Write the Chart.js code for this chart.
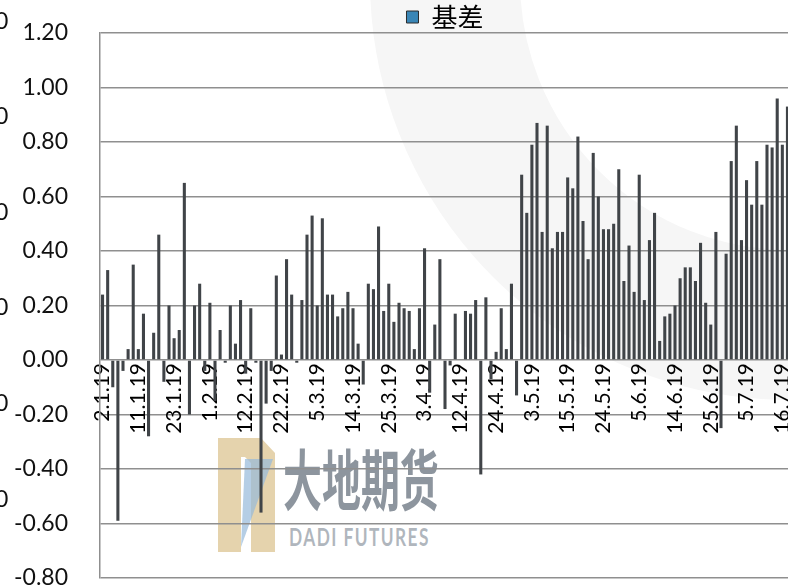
<!DOCTYPE html>
<html>
<head>
<meta charset="utf-8">
<title>基差</title>
<script src="https://cdn.jsdelivr.net/npm/chart.js@4.4.1/dist/chart.umd.min.js"></script>
<style>
  html, body { margin: 0; padding: 0; background: #fff; overflow: hidden; }
  #wrap { position: relative; width: 788px; height: 588px; overflow: hidden; }
  #chart { position: absolute; left: 0; top: 0; z-index: 3; }
  /* big grey swoosh of the watermark */
  .ring {
    position: absolute; left: 370px; top: -440px; width: 840px; height: 840px;
    box-sizing: border-box; border: 150px solid #f6f6f6; border-radius: 50%; z-index: 0;
  }
  .logo { position: absolute; z-index: 1; }
  .logo-cn {
    left: 283px; top: 428px; font: bold 66px "Noto Sans CJK SC"; color: rgba(112, 122, 134, 0.8);
    transform: scaleX(0.59); transform-origin: left top; white-space: nowrap;
  }
  .logo-en {
    left: 289px; top: 522px; font: bold 24px Lato; color: rgba(150, 158, 168, 0.75);
    transform: scaleX(0.72); transform-origin: left top; letter-spacing: 2px; white-space: nowrap;
  }
  /* the axis of the neighbouring chart, cut off at the left edge */
  .cut { position: absolute; left: -5px; font: 23px Lato; line-height: 23px; color: #111; z-index: 4; }
</style>
</head>
<body>
<div id="wrap">
  <div class="ring"></div>
  <svg class="logo" style="left:215px;top:435px" width="64" height="120">
    <path d="M3 3 H46 L60 18 V117 H36 V28 L30 22 H26 V117 H3 Z" fill="rgba(220,196,145,0.75)"/>
    <path d="M30 24 L58 24 L26 112 Z" fill="rgba(150,185,218,0.7)"/>
  </svg>
  <div class="logo logo-cn">大地期货</div>
  <div class="logo logo-en">DADI FUTURES</div>
  <canvas id="chart" width="884" height="588"></canvas>
</div>
<script>
// trading days shown on the category axis (d.m.yy)
const dates = [
  "2.1.19", "3.1.19", "4.1.19", "7.1.19", "8.1.19", "9.1.19", "10.1.19", "11.1.19", "14.1.19", "15.1.19",
  "16.1.19", "17.1.19", "18.1.19", "22.1.19", "23.1.19", "24.1.19", "25.1.19", "28.1.19", "29.1.19", "30.1.19",
  "31.1.19", "1.2.19", "4.2.19", "5.2.19", "6.2.19", "7.2.19", "8.2.19", "11.2.19", "12.2.19", "13.2.19",
  "14.2.19", "15.2.19", "19.2.19", "20.2.19", "21.2.19", "22.2.19", "25.2.19", "26.2.19", "27.2.19", "28.2.19",
  "1.3.19", "4.3.19", "5.3.19", "6.3.19", "7.3.19", "8.3.19", "11.3.19", "12.3.19", "13.3.19", "14.3.19",
  "15.3.19", "18.3.19", "19.3.19", "20.3.19", "21.3.19", "22.3.19", "25.3.19", "26.3.19", "27.3.19", "28.3.19",
  "29.3.19", "1.4.19", "2.4.19", "3.4.19", "4.4.19", "5.4.19", "8.4.19", "9.4.19", "10.4.19", "11.4.19",
  "12.4.19", "15.4.19", "16.4.19", "17.4.19", "18.4.19", "22.4.19", "23.4.19", "24.4.19", "25.4.19", "26.4.19",
  "29.4.19", "30.4.19", "1.5.19", "2.5.19", "3.5.19", "7.5.19", "8.5.19", "9.5.19", "10.5.19", "13.5.19",
  "14.5.19", "15.5.19", "16.5.19", "17.5.19", "20.5.19", "21.5.19", "22.5.19", "23.5.19", "24.5.19", "28.5.19",
  "29.5.19", "30.5.19", "31.5.19", "3.6.19", "4.6.19", "5.6.19", "6.6.19", "7.6.19", "10.6.19", "11.6.19",
  "12.6.19", "13.6.19", "14.6.19", "17.6.19", "18.6.19", "19.6.19", "20.6.19", "21.6.19", "24.6.19", "25.6.19",
  "26.6.19", "27.6.19", "28.6.19", "1.7.19", "2.7.19", "3.7.19", "5.7.19", "8.7.19", "9.7.19", "10.7.19",
  "11.7.19", "12.7.19", "15.7.19", "16.7.19", "17.7.19"
];

// 基差 values
const basis = [
  0.24, 0.33, -0.10, -0.59, -0.04, 0.04, 0.35, 0.04, 0.17, -0.28,
  0.10, 0.46, -0.08, 0.20, 0.08, 0.11, 0.65, -0.20, 0.20, 0.28,
  -0.04, 0.21, -0.15, 0.11, -0.01, 0.20, 0.06, 0.22, -0.05, 0.19,
  -0.01, -0.56, -0.16, -0.04, 0.31, 0.02, 0.37, 0.24, -0.01, 0.22,
  0.46, 0.53, 0.20, 0.52, 0.24, 0.24, 0.16, 0.19, 0.25, 0.19,
  0.06, -0.09, 0.28, 0.26, 0.49, 0.18, 0.28, 0.14, 0.21, 0.19,
  0.18, 0.04, 0.19, 0.41, -0.12, 0.13, 0.37, -0.18, -0.02, 0.17,
  0.00, 0.18, 0.17, 0.22, -0.42, 0.23, -0.07, 0.03, 0.19, 0.04,
  0.28, -0.13, 0.68, 0.54, 0.79, 0.87, 0.47, 0.86, 0.41, 0.47,
  0.47, 0.67, 0.63, 0.82, 0.51, 0.37, 0.76, 0.60, 0.48, 0.48,
  0.50, 0.70, 0.29, 0.42, 0.25, 0.68, 0.22, 0.44, 0.54, 0.07,
  0.16, 0.17, 0.20, 0.30, 0.34, 0.34, 0.29, 0.43, 0.21, 0.13,
  0.47, -0.25, 0.39, 0.73, 0.86, 0.44, 0.66, 0.57, 0.73, 0.57,
  0.79, 0.78, 0.96, 0.79, 0.93
];

const seriesName = "基差";
const yMin = -0.8;
const yMax = 1.2;
const yStep = 0.2;
const labelEvery = 7;   // only every 7th date is printed

const barColor = "#404448";
const legendBlue = "#3a86b6";
const gridColor = "#8f8f8f";

// the cut-off "0" digits along the left edge
for (let i = 0; i < 6; i++) {
  const d = document.createElement("div");
  d.className = "cut";
  d.textContent = "0";
  d.style.top = (20 + i * 95.6 - 11.5) + "px";
  document.getElementById("wrap").appendChild(d);
}

// keep the legend strip short so the plot starts right under it
const legendFit = {
  id: "legendFit",
  afterInit(chart) {
    const legend = chart.legend;
    if (!legend || legend._fitPatched) return;
    const fit = legend.fit;
    legend.fit = function () {
      fit.call(this);
      this.height = 33;
    };
    legend._fitPatched = true;
  }
};

function draw() {
  const ctx = document.getElementById("chart").getContext("2d");
  new Chart(ctx, {
    type: "bar",
    data: {
      labels: dates,
      datasets: [{
        label: seriesName,
        data: basis,
        backgroundColor: barColor,
        barPercentage: 0.6,
        categoryPercentage: 1.0
      }]
    },
    options: {
      responsive: false,
      animation: false,
      layout: { padding: { left: 0, right: 94, top: 0, bottom: 10 } },
      plugins: {
        tooltip: { enabled: false },
        legend: {
          position: "top",
          fullSize: false,
          labels: {
            boxWidth: 12,
            boxHeight: 12,
            padding: 4,
            color: "#111",
            font: { family: "'Noto Sans CJK SC'", size: 26, lineHeight: 1 },
            generateLabels: () => [{
              text: seriesName,
              fillStyle: legendBlue,
              strokeStyle: "#2b2b2b",
              lineWidth: 1,
              hidden: false,
              datasetIndex: 0
            }]
          }
        }
      },
      scales: {
        x: {
          position: { y: 0 },
          afterFit(scale) {
            scale.height = 0;
            scale.paddingLeft = 0;
            scale.paddingRight = 0;
          },
          grid: { display: false, drawTicks: false },
          border: { display: false },
          ticks: {
            autoSkip: false,
            minRotation: 90,
            maxRotation: 90,
            padding: 3,
            color: "#000",
            font: { family: "Lato", size: 21 },
            callback: function (value, index) {
              return index % labelEvery === 0 ? this.getLabelForValue(value) : "";
            }
          }
        },
        y: {
          min: yMin,
          max: yMax,
          afterFit(scale) {
            scale.width = 100;
            // the tick padding is horizontal here, don't let it pad the top/bottom
            scale.paddingTop = 0;
            scale.paddingBottom = 0;
          },
          grid: { color: gridColor, lineWidth: 1.5, drawTicks: false },
          border: { display: true, color: gridColor, width: 1.5 },
          ticks: {
            stepSize: yStep,
            padding: 32,
            color: "#111",
            font: { family: "Lato", size: 23 },
            callback: v => v.toFixed(2)
          }
        }
      }
    },
    plugins: [legendFit]
  });
}

Promise.all([
  document.fonts.load("23px Lato"),
  document.fonts.load("26px 'Noto Sans CJK SC'")
]).then(draw, draw);
</script>
</body>
</html>
